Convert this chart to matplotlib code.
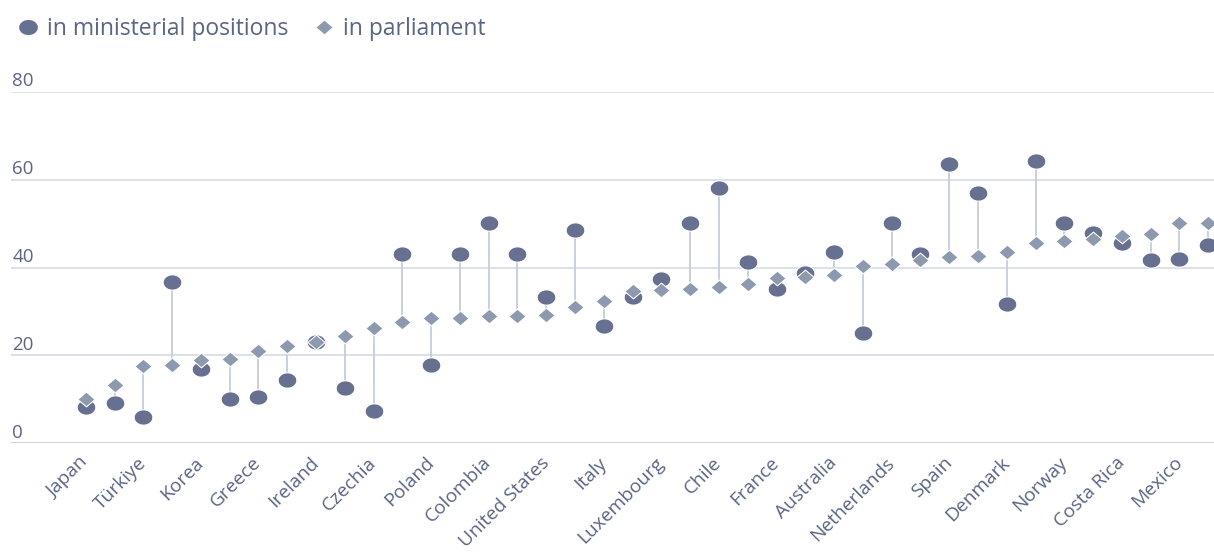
import numpy as np
import matplotlib
matplotlib.use("Agg")
import matplotlib.pyplot as plt
from matplotlib.path import Path
from matplotlib.lines import Line2D
import matplotlib.transforms as mtransforms

plt.rcParams['font.family'] = ['Open Sans', 'DejaVu Sans']

# women share (%), countries sorted by share in parliament; only every other name is shown
etiquetas = ["Japan", "Türkiye", "Korea", "Greece", "Ireland", "Czechia", "Poland",
             "Colombia", "United States", "Italy", "Luxembourg", "Chile", "France",
             "Australia", "Netherlands", "Spain", "Denmark", "Norway", "Costa Rica", "Mexico"]

parlamento = [10.1, 13.3, 17.6, 17.8, 18.9, 19.1, 21.1, 22.2, 23.1, 24.4,
              26.2, 27.7, 28.4, 28.4, 29.0, 29.0, 29.3, 30.9, 32.4, 34.7,
              34.9, 35.2, 35.5, 36.2, 37.7, 37.9, 38.3, 40.4, 40.8, 41.7,
              42.3, 42.7, 43.6, 45.5, 46.1, 46.5, 47.2, 47.6, 50.1, 50.1]

ministerios = [8.3, 9.1, 6.0, 36.7, 16.8, 10.0, 10.6, 14.4, 23.0, 12.5,
               7.3, 43.0, 17.8, 43.0, 50.1, 43.0, 33.3, 48.5, 26.7, 33.2,
               37.4, 50.1, 58.2, 41.2, 35.0, 38.7, 43.6, 25.0, 50.1, 43.0,
               63.5, 56.9, 31.6, 64.3, 50.1, 47.9, 45.5, 41.7, 41.9, 45.1]

color_texto = "#5b6584"
color_circulo = "#687091"
color_rombo = "#8d99ae"

x = np.arange(len(parlamento))

# circulo achatado como en la imagen original
t = np.linspace(0, 2 * np.pi, 60)
elipse = Path(np.column_stack([np.cos(t), 0.82 * np.sin(t)]), closed=True)
rombo = Path([(0, 0.85), (1, 0), (0, -0.85), (-1, 0), (0, 0.85)], closed=True)

fig = plt.figure(figsize=(12.14, 5.53), dpi=100)
ax = fig.add_axes([11 / 1214, (553 - 443.3) / 553, 1 - 11 / 1214, (443.3 - 91.7) / 553])

for i in x:
    ax.plot([i, i], [parlamento[i], ministerios[i]], color="#c7ccd8", lw=1.3, zorder=2)

ax.plot(x, ministerios, ls="none", marker=elipse, ms=13.5, mfc=color_circulo,
        mec="white", mew=0.8, zorder=3, clip_on=False)
ax.plot(x, parlamento, ls="none", marker=rombo, ms=12.5, mfc=color_rombo,
        mec="white", mew=0.8, zorder=4, clip_on=False)

ax.set_xlim(-2.596, 39.2)
ax.set_ylim(0, 80)

for v in [20, 40, 60, 80]:
    ax.axhline(v, color="#d6dae4", lw=1.2, zorder=1)
ax.axhline(0, color="#c8cedb", lw=2, zorder=1)

trans = mtransforms.blended_transform_factory(ax.transAxes, ax.transData)
for v in [0, 20, 40, 60, 80]:
    ax.annotate(str(v), xy=(0, v), xycoords=trans, xytext=(1, 4),
                textcoords="offset points", ha="left", va="baseline",
                fontsize=13.5, color=color_texto)

ax.set_yticks([])
ax.set_xticks(x[::2])
ax.set_xticklabels(etiquetas, rotation=45, ha="right", va="center",
                   rotation_mode="anchor", fontsize=13.8, color=color_texto)
ax.tick_params(axis="x", length=0, pad=12)
for s in ax.spines.values():
    s.set_visible(False)

h1 = Line2D([], [], ls="none", marker=elipse, ms=14.5, mfc=color_circulo, mec="white")
h2 = Line2D([], [], ls="none", marker=rombo, ms=13, mfc=color_rombo, mec="white")
fig.legend([h1, h2], ["in ministerial positions", "in parliament"], loc="upper left",
           bbox_to_anchor=(0.001, 0.998), ncol=2, frameon=False, fontsize=16.5,
           labelcolor=color_texto, handlelength=0.9, handletextpad=0.4,
           columnspacing=1.1, borderaxespad=0.3)

fig.savefig("out.png", dpi=100)
